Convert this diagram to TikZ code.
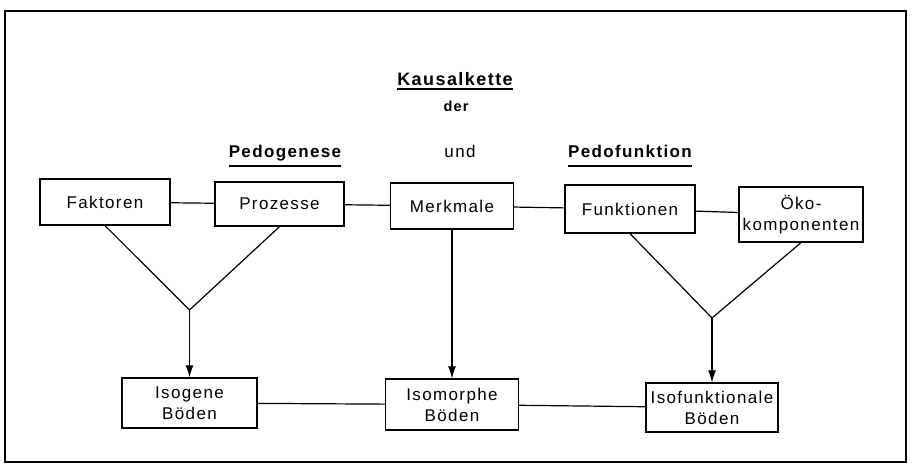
\documentclass[tikz,border=0pt]{standalone}
\usepackage{fontspec}
\setmainfont{Liberation Sans}[LetterSpace=8]
\usetikzlibrary{arrows.meta}
\tikzset{
  box/.style={draw, line width=1.3pt, inner sep=0pt, align=center, font=\fontsize{17}{21}\selectfont},
  conn/.style={line width=1.2pt},
  arr/.style={line width=1.2pt, -{Latex[length=12pt,width=8pt]}},
  ttl/.style={inner sep=0pt, anchor=base},
}
\begin{document}
\begin{tikzpicture}[x=1pt,y=-1pt]
\useasboundingbox (0,0) rectangle (913,475);
\draw[line width=1.3pt] (5,11) rectangle (906,462);

% titles
\node[ttl, font=\bfseries\fontsize{18}{22}\selectfont] (kaus) at (455,85) {Kausalkette};
\draw[line width=1.1pt] ([yshift=-4pt]kaus.base west) -- ([yshift=-4pt]kaus.base east);
\node[ttl, font=\bfseries\fontsize{14.5}{17}\selectfont] (der) at (456,111) {der};
\node[ttl, font=\bfseries\fontsize{17}{21}\selectfont] (pedog) at (285,157) {Pedogenese};
\draw[line width=1.1pt] ([yshift=-9pt]pedog.base west) -- ([yshift=-9pt]pedog.base east);
\node[ttl, font=\fontsize{17}{21}\selectfont] (und) at (460,157) {und};
\node[ttl, font=\bfseries\fontsize{17}{21}\selectfont] (pedof) at (630,157) {Pedofunktion};
\draw[line width=1.1pt] ([yshift=-9pt]pedof.base west) -- ([yshift=-9pt]pedof.base east);

% top row
\node[box, minimum width=130pt, minimum height=46pt] (fak) at (105,202) {Faktoren};
\node[box, minimum width=129pt, minimum height=44pt] (pro) at (279.5,204) {Prozesse};
\node[box, minimum width=123pt, minimum height=46pt] (mer) at (452,206) {Merkmale};
\node[box, minimum width=130pt, minimum height=48pt] (fun) at (630,209) {Funktionen};
\node[box, minimum width=124pt, minimum height=55pt] (oko) at (801,214.5) {Öko-\\komponenten};

% bottom row
\node[box, minimum width=135pt, minimum height=50pt] (iso1) at (189.5,403) {Isogene\\Böden};
\node[box, minimum width=133pt, minimum height=51pt] (iso2) at (452,404.5) {Isomorphe\\Böden};
\node[box, minimum width=132pt, minimum height=49pt] (iso3) at (712,407.5) {Isofunktionale\\Böden};

% horizontal links
\draw[conn] (fak) -- (pro);
\draw[conn] (pro) -- (mer);
\draw[conn] (mer) -- (fun);
\draw[conn] (fun) -- (oko);
\draw[conn] (iso1) -- (iso2);
\draw[conn] (iso2) -- (iso3);

% V-shapes and arrows
\coordinate (j1) at (189.5,310);
\coordinate (j2) at (712,318);
\draw[conn] (fak.south) -- (j1) -- (pro.south);
\draw[arr] (j1) -- (iso1.north);
\draw[arr] (mer.south) -- (iso2.north);
\draw[conn] (fun.south) -- (j2) -- (oko.south);
\draw[arr] (j2) -- (iso3.north);
\end{tikzpicture}
\end{document}
